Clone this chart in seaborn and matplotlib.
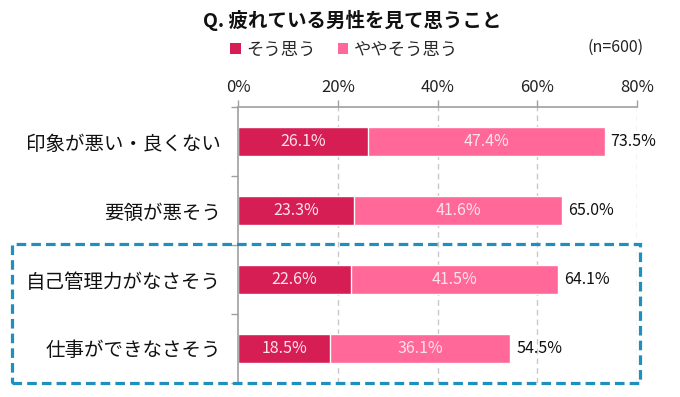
import matplotlib
matplotlib.use("Agg")
import matplotlib.pyplot as plt
import seaborn as sns
import pandas as pd
from matplotlib.patches import Patch, Rectangle

sns.set_theme(style="white")
plt.rcParams['font.family'] = ['Noto Sans CJK JP', 'DejaVu Sans']

# ---- data ----
categories = ["印象が悪い・良くない", "要領が悪そう", "自己管理力がなさそう", "仕事ができなさそう"]
agree = [26.1, 23.3, 22.6, 18.5]          # そう思う
somewhat = [47.4, 41.6, 41.5, 36.1]       # ややそう思う
totals = [73.5, 65.0, 64.1, 54.5]
series_names = ["そう思う", "ややそう思う"]
xticks = [0, 20, 40, 60, 80]
title = "Q. 疲れている男性を見て思うこと"
note = "(n=600)"

dark = "#D61E55"
light = "#FF6898"

df = pd.DataFrame({"category": categories, "agree": agree,
                   "somewhat": somewhat, "total": totals})
df["stack"] = df["agree"] + df["somewhat"]

fig = plt.figure(figsize=(6.8, 3.97), dpi=100)
ax = fig.add_axes([238/680, 1-383/397, (637-238)/680, (383-107)/397])

sns.barplot(data=df, y="category", x="stack", color=light, orient="h",
            width=0.41, ax=ax, saturation=1, errorbar=None)
sns.barplot(data=df, y="category", x="agree", color=dark, orient="h",
            width=0.41, ax=ax, saturation=1, errorbar=None)

ax.set_xlim(0, 80)
ax.set_ylim(3.5, -0.5)
ax.set_xlabel("")
ax.set_ylabel("")
ax.xaxis.tick_top()
ax.set_xticks(xticks)
ax.set_xticklabels([f"{v}%" for v in xticks], fontsize=12, color="#222222")
ax.tick_params(axis="x", direction="out", length=5, width=1, color="#A0A0A0", pad=3)

ax.set_yticks(range(len(categories)))
ax.set_yticklabels(categories, fontsize=14, color="#111111")
ax.tick_params(axis="y", which="major", length=0, pad=12)
ax.set_yticks([-0.5, 0.5, 1.5, 2.5, 3.5], minor=True)
ax.tick_params(axis="y", which="minor", direction="out", length=5, width=1, color="#A0A0A0", left=True)

for v in xticks[1:]:
    ax.axvline(v, color="#C8C8C8", lw=1, ls=(0, (4, 3)), zorder=0)

for s in ["right", "bottom"]:
    ax.spines[s].set_visible(False)
for s in ["top", "left"]:
    ax.spines[s].set_color("#A0A0A0")
    ax.spines[s].set_linewidth(1.2)

for i in range(len(categories)):
    a, b, t = agree[i], somewhat[i], totals[i]
    ax.text(a / 2, i, f"{a:.1f}%", ha="center", va="center", color="#FBE3EC", fontsize=11.5)
    ax.text(a + b / 2, i, f"{b:.1f}%", ha="center", va="center", color="#FBE3EC", fontsize=11.5)
    ax.text(a + b + 1.2, i, f"{t:.1f}%", ha="left", va="center", color="#111111", fontsize=11.5)

fig.text(352/680, 1-20/397, title, ha="center", va="center", fontsize=14, fontweight="bold", color="#111111")
handles = [Patch(facecolor=dark, edgecolor="none"), Patch(facecolor=light, edgecolor="none")]
fig.legend(handles, series_names, loc="center", bbox_to_anchor=(344/680, 1-50/397), ncol=2,
           frameon=False, fontsize=12.5, handlelength=0.6, handleheight=0.6,
           handletextpad=0.3, columnspacing=1.3)
fig.text(616/680, 1-47/397, note, ha="center", va="center", fontsize=11.5, color="#222222")

box = Rectangle((12/680, 1-383/397), 628/680, 139/397, transform=fig.transFigure,
                fill=False, edgecolor="#1F8FBF", lw=2.3, ls=(0, (3, 1.6)), zorder=10)
fig.add_artist(box)

fig.savefig("out.png", dpi=100)
